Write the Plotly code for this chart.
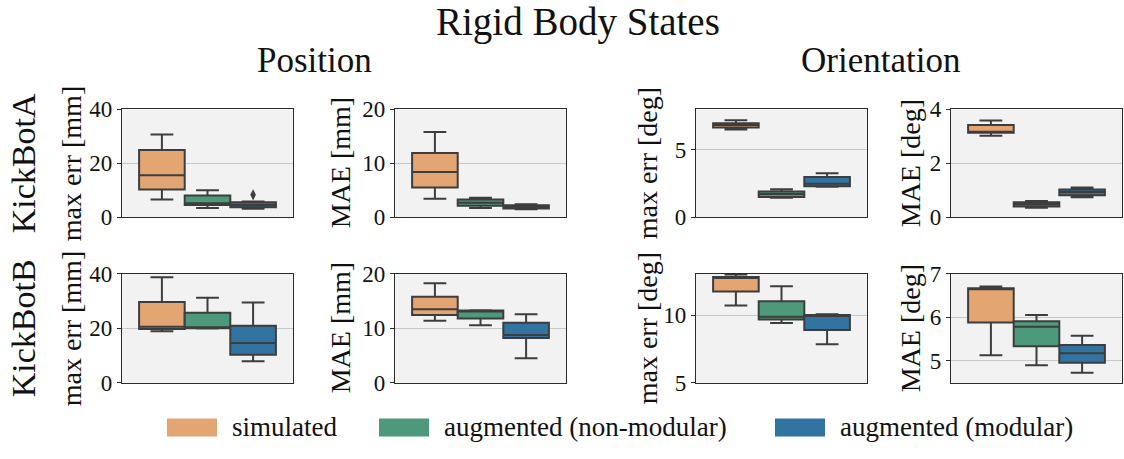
import plotly.graph_objects as go

# Hue groups and their colours
groups = ["simulated", "augmented (non-modular)", "augmented (modular)"]
colors = ["#E3A572", "#4C9A7A", "#3274A1"]

# Box statistics per group: [lower whisker, Q1, median, Q3, upper whisker]
kba_pos_max = [[6.6, 10.3, 15.6, 24.9, 30.7], [3.4, 4.5, 5.2, 8.0, 10.0], [3.1, 3.7, 4.5, 5.5, 5.8]]
kba_pos_mae = [[3.4, 5.5, 8.4, 11.9, 15.8], [1.7, 2.1, 2.7, 3.3, 3.6], [1.45, 1.6, 1.9, 2.2, 2.4]]
kba_ori_max = [[6.5, 6.65, 6.84, 6.98, 7.2], [1.44, 1.5, 1.72, 1.9, 2.07], [2.26, 2.3, 2.49, 2.98, 3.26]]
kba_ori_mae = [[3.02, 3.13, 3.17, 3.42, 3.59], [0.35, 0.4, 0.48, 0.55, 0.6], [0.74, 0.81, 0.93, 1.03, 1.1]]
kbb_pos_max = [[18.9, 19.7, 20.6, 29.7, 38.8], [19.9, 20.0, 20.3, 25.7, 31.2], [7.9, 10.3, 14.6, 20.9, 29.5]]
kbb_pos_mae = [[11.4, 12.45, 13.5, 15.8, 18.3], [10.55, 11.8, 13.1, 13.25, 13.3], [4.5, 8.2, 8.76, 11.0, 12.6]]
kbb_ori_max = [[10.72, 11.75, 12.76, 12.83, 13.01], [9.42, 9.67, 9.88, 11.03, 12.13], [7.85, 8.9, 9.98, 10.0, 10.07]]
kbb_ori_mae = [[5.12, 5.88, 6.65, 6.67, 6.71], [4.89, 5.33, 5.78, 5.91, 6.05], [4.72, 4.95, 5.17, 5.36, 5.57]]

# Outlier points (group index, value)
kba_pos_max_outliers = [(2, 8.3)]

row_labels = ["KickBotA", "KickBotB"]
col_titles = ["Position", "Orientation"]
y_labels = ["max err [mm]", "MAE [mm]", "max err [deg]", "MAE [deg]"]

W, H = 1124, 459
FONT = "Liberation Serif, Times New Roman, serif"
TXT = "#111111"
LINE = "#3d3d3d"
FRAME = "#2b2b2b"
BG = "#F2F2F2"
GRID = "#C8C8C8"

# panel frames in pixels: (x0, x1) per column, (y0, y1) per row
col_px = [(122, 293), (395, 566), (696, 867), (951, 1122)]
row_px = [(103, 217), (277, 392)]
ylab_x = [71, 340, 647, 910]

panels = [
    (kba_pos_max, kba_pos_max_outliers, [0, 40], [0, 20, 40]),
    (kba_pos_mae, [], [0, 20], [0, 10, 20]),
    (kba_ori_max, [], [0, 8], [0, 5]),
    (kba_ori_mae, [], [0, 4], [0, 2, 4]),
    (kbb_pos_max, [], [0, 40], [0, 20, 40]),
    (kbb_pos_mae, [], [0, 20], [0, 10, 20]),
    (kbb_ori_max, [], [5, 13.05], [5, 10]),
    (kbb_ori_mae, [], [4.49, 7], [5, 6, 7]),
]

bw = 0.8 / len(groups)
offsets = [(i - (len(groups) - 1) / 2) * bw for i in range(len(groups))]

fig = go.Figure()
layout = {}
annotations = []

for k, (stats, outliers, yr, tv) in enumerate(panels):
    r, c = divmod(k, 4)
    n = k + 1
    xs = "x" if n == 1 else f"x{n}"
    ys = "y" if n == 1 else f"y{n}"
    for g, st in enumerate(stats):
        lo, q1, med, q3, hi = st
        fig.add_trace(go.Box(
            x=[offsets[g]], q1=[q1], median=[med], q3=[q3],
            lowerfence=[lo], upperfence=[hi],
            width=bw, whiskerwidth=0.5, boxpoints=False,
            fillcolor=colors[g], line=dict(color=LINE, width=2),
            name=groups[g], showlegend=False, xaxis=xs, yaxis=ys,
        ))
    for g, v in outliers:
        fig.add_trace(go.Scatter(
            x=[offsets[g]], y=[v], mode="markers",
            marker=dict(symbol="diamond-tall", size=8, color=LINE),
            showlegend=False, xaxis=xs, yaxis=ys,
        ))
    x0, x1 = col_px[c]
    y0, y1 = row_px[r]
    layout["xaxis" if n == 1 else f"xaxis{n}"] = dict(
        domain=[x0 / W, x1 / W], range=[-0.5, 0.5], anchor=ys,
        showticklabels=False, ticks="", showgrid=False, zeroline=False,
        showline=True, mirror=True, linecolor=FRAME, linewidth=1.3,
    )
    layout["yaxis" if n == 1 else f"yaxis{n}"] = dict(
        domain=[1 - y1 / H, 1 - y0 / H], range=yr, anchor=xs,
        tickvals=tv, ticks="outside", ticklen=4, tickcolor=FRAME, tickwidth=1,
        tickfont=dict(family=FONT, size=23, color=TXT),
        showgrid=True, gridcolor=GRID, gridwidth=1, zeroline=False,
        showline=True, mirror=True, linecolor=FRAME, linewidth=1.3,
    )
    annotations.append(dict(
        x=ylab_x[c] / W, y=1 - (y0 + y1) / 2 / H, xref="paper", yref="paper",
        text=y_labels[c], textangle=-90, showarrow=False,
        xanchor="center", yanchor="middle",
        font=dict(family=FONT, size=28, color=TXT),
    ))

# titles
annotations.append(dict(x=578 / W, y=1 - 11 / H, xref="paper", yref="paper",
                        text="Rigid Body States", showarrow=False,
                        xanchor="center", yanchor="middle",
                        font=dict(family=FONT, size=39, color=TXT)))
for cx, t in zip([314, 880], col_titles):
    annotations.append(dict(x=cx / W, y=1 - 51 / H, xref="paper", yref="paper",
                            text=t, showarrow=False, xanchor="center", yanchor="middle",
                            font=dict(family=FONT, size=35, color=TXT)))
for (y0, y1), t in zip(row_px, row_labels):
    annotations.append(dict(x=23 / W, y=1 - (y0 + y1) / 2 / H, xref="paper", yref="paper",
                            text=t, textangle=-90, showarrow=False,
                            xanchor="center", yanchor="middle",
                            font=dict(family=FONT, size=34, color=TXT)))

# legend: colour swatches with labels
shapes = []
sw_x = [167, 379, 775]
txt_x = [230, 442, 838]
for g in range(len(groups)):
    shapes.append(dict(type="rect", xref="paper", yref="paper",
                       x0=sw_x[g] / W, x1=(sw_x[g] + 50) / W,
                       y0=1 - 449 / H, y1=1 - 430 / H,
                       fillcolor=colors[g], line=dict(width=0)))
    annotations.append(dict(x=txt_x[g] / W, y=1 - 439 / H, xref="paper", yref="paper",
                            text=groups[g], showarrow=False,
                            xanchor="left", yanchor="middle",
                            font=dict(family=FONT, size=27, color=TXT)))

fig.update_layout(
    width=W, height=H, margin=dict(l=0, r=0, t=0, b=0),
    paper_bgcolor="white", plot_bgcolor=BG, boxmode="overlay",
    annotations=annotations, shapes=shapes, **layout,
)

fig.write_html("out.html", config={"displayModeBar": False})
